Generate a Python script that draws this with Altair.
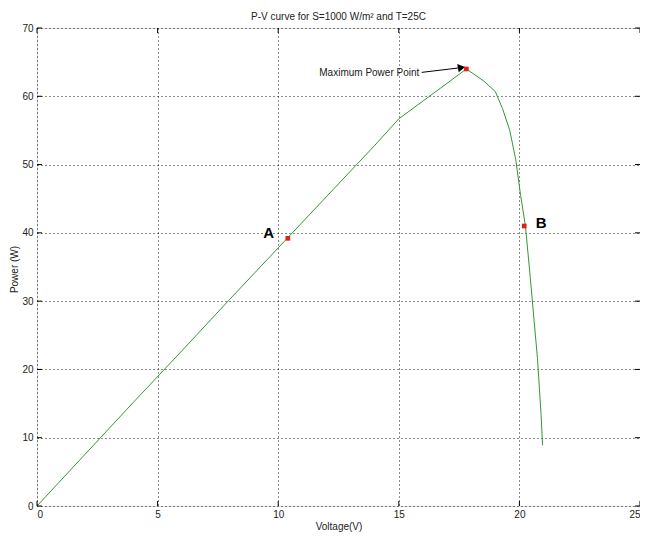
import altair as alt
import pandas as pd

voltage = [0, 2, 4, 6, 8, 10, 12, 14, 15, 16, 17, 17.8, 18.5, 19.0, 19.3, 19.6, 19.85, 20.05, 20.25, 20.45, 20.6, 20.75, 20.9, 20.96]
power = [0, 7.6, 15.2, 22.7, 30.3, 37.8, 45.3, 52.8, 56.7, 59.3, 61.9, 64.0, 62.3, 60.7, 58.2, 55.0, 50.7, 45.5, 41.0, 33.5, 27.5, 21.6, 13.3, 8.9]

marker_v = [10.4, 17.8, 20.2]
marker_p = [39.2, 64.0, 41.0]

letter_text = ["A", "B"]
letter_v = [9.6, 20.9]
letter_p = [40.0, 41.5]

ann_text = ["Maximum Power Point"]
ann_v = [15.85]
ann_p = [63.4]
arrow_v = [15.95, 17.6]
arrow_p = [63.5, 64.2]

x_ticks = [0, 5, 10, 15, 20, 25]
y_ticks = [0, 10, 20, 30, 40, 50, 60, 70]

FONT = "Liberation Sans"
W, H = 603, 478

curve = pd.DataFrame({"V": voltage, "P": power})
markers = pd.DataFrame({"V": marker_v, "P": marker_p})
letters = pd.DataFrame({"V": letter_v, "P": letter_p, "t": letter_text})
ann = pd.DataFrame({"V": ann_v, "P": ann_p, "t": ann_text})
arrow = pd.DataFrame({"V": [arrow_v[0]], "P": [arrow_p[0]], "V2": [arrow_v[1]], "P2": [arrow_p[1]]})
head = pd.DataFrame({"V": [arrow_v[1]], "P": [arrow_p[1]]})
xt = pd.DataFrame({"V": x_ticks})
yt = pd.DataFrame({"P": y_ticks})

xs = alt.Scale(domain=[0, 25], nice=False, zero=False)
ys = alt.Scale(domain=[0, 70], nice=False, zero=False)

common = dict(grid=True, gridDash=[1, 3], gridColor="#000000", gridOpacity=0.9, ticks=False,
              domain=False, labelFont=FONT, labelFontSize=10, labelColor="#222222",
              titleFont=FONT, titleFontSize=10, titleFontWeight="normal", titleColor="#222222")

xenc = alt.X("V:Q", scale=xs, title="Voltage(V)",
             axis=alt.Axis(values=x_ticks, labelPadding=3, titleX=W / 2, titleY=20,
                           titleBaseline="middle", titleAlign="center", **common))
yenc = alt.Y("P:Q", scale=ys, title="Power (W)",
             axis=alt.Axis(values=y_ticks, labelPadding=4, titleX=-23, titleY=H / 2 + 2,
                           titleAngle=270, titleBaseline="middle", titleAlign="center", **common))

line = alt.Chart(curve).mark_line(color="#339933", strokeWidth=1).encode(x=xenc, y=yenc)

pts = alt.Chart(markers).mark_point(shape="square", filled=True, color="#e0201a", size=22, opacity=1).encode(
    x=alt.X("V:Q", scale=xs), y=alt.Y("P:Q", scale=ys))

lett = alt.Chart(letters).mark_text(font=FONT, fontSize=15, fontWeight="bold",
                                    color="#000000", align="center", baseline="middle").encode(
    x=alt.X("V:Q", scale=xs), y=alt.Y("P:Q", scale=ys), text="t:N")

annt = alt.Chart(ann).mark_text(font=FONT, fontSize=10, color="#222222", align="right",
                                baseline="middle").encode(
    x=alt.X("V:Q", scale=xs), y=alt.Y("P:Q", scale=ys), text="t:N")

arr = alt.Chart(arrow).mark_rule(color="#000000", strokeWidth=1).encode(
    x=alt.X("V:Q", scale=xs), y=alt.Y("P:Q", scale=ys), x2="V2:Q", y2="P2:Q")

arrh = alt.Chart(head).mark_point(shape="triangle-right", filled=True, color="#000000", size=70,
                                  angle=350, opacity=1).encode(
    x=alt.X("V:Q", scale=xs), y=alt.Y("P:Q", scale=ys))

# inward ticks, MATLAB style
xtick_b = alt.Chart(xt).mark_rule(color="#000000").encode(
    x=alt.X("V:Q", scale=xs), y=alt.value(H), y2=alt.value(H - 5))
xtick_t = alt.Chart(xt).mark_rule(color="#000000").encode(
    x=alt.X("V:Q", scale=xs), y=alt.value(0), y2=alt.value(5))
ytick_l = alt.Chart(yt).mark_rule(color="#000000").encode(
    y=alt.Y("P:Q", scale=ys), x=alt.value(0), x2=alt.value(5))
ytick_r = alt.Chart(yt).mark_rule(color="#000000").encode(
    y=alt.Y("P:Q", scale=ys), x=alt.value(W), x2=alt.value(W - 5))

chart = alt.layer(line, xtick_b, xtick_t, ytick_l, ytick_r, arr, arrh, pts, lett, annt).properties(
    width=W, height=H,
    title=alt.Title("P-V curve for S=1000 W/m² and T=25C", font=FONT, fontSize=10,
                    fontWeight="normal", color="#222222", offset=1),
    padding={"left": 29, "top": 20, "right": 0, "bottom": 26},
    autosize=alt.AutoSizeParams(type="none"),
).configure_view(stroke="#000000", strokeWidth=1).configure(background="#ffffff")

chart.save("out.html", embed_options={"renderer": "svg", "actions": False})
